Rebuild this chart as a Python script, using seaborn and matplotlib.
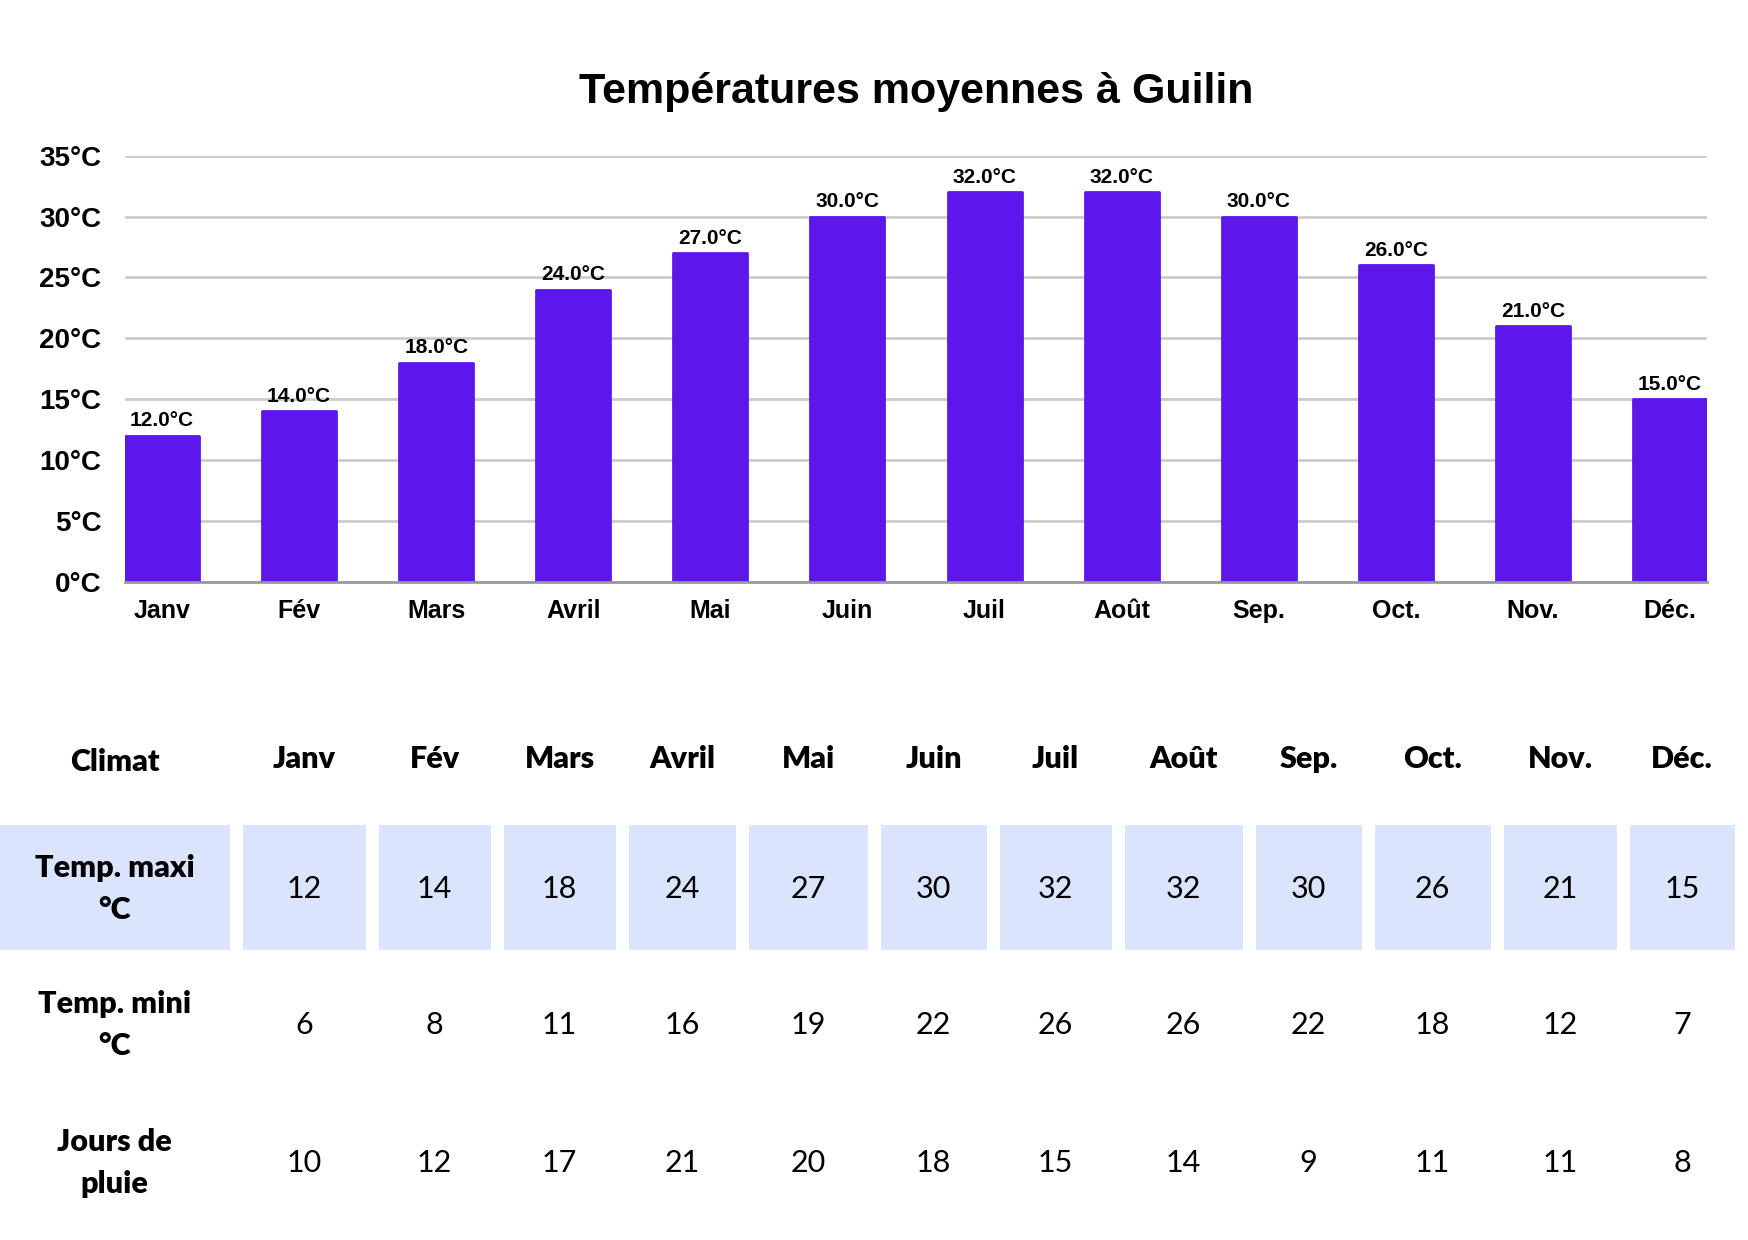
import numpy as np
import pandas as pd
import seaborn as sns
import matplotlib.pyplot as plt
from matplotlib.patches import Rectangle

# data
mois = ['Janv', 'Fév', 'Mars', 'Avril', 'Mai', 'Juin', 'Juil', 'Août', 'Sep.', 'Oct.', 'Nov.', 'Déc.']
temp_maxi = [12, 14, 18, 24, 27, 30, 32, 32, 30, 26, 21, 15]
temp_mini = [6, 8, 11, 16, 19, 22, 26, 26, 22, 18, 12, 7]
jours_pluie = [10, 12, 17, 21, 20, 18, 15, 14, 9, 11, 11, 8]
row_labels = ['Temp. maxi\n°C', 'Temp. mini\n°C', 'Jours de\npluie']

sns.set_theme(style='white')
plt.rcParams['font.family'] = ['Liberation Sans', 'DejaVu Sans']
plt.rcParams['text.color'] = 'black'
plt.rcParams['xtick.color'] = 'black'
plt.rcParams['ytick.color'] = 'black'

W, H = 1748, 1240
fig = plt.figure(figsize=(W / 100, H / 100), dpi=100)

# ---- table (pixel coordinates) ----
tab = fig.add_axes([0, 0, 1, 1], zorder=0)
tab.set_xlim(0, W)
tab.set_ylim(H, 0)
tab.axis('off')

bounds = [-7, 236, 372, 497, 622, 742, 874, 993, 1118, 1249, 1368, 1497, 1623, 1741]
centers = [(bounds[i] + bounds[i + 1]) / 2 for i in range(len(bounds) - 1)]
row_y = [762, 889, 1025, 1163]
tfont = ['Lato', 'DejaVu Sans']
hl = '#dbe4fd'

for i in range(len(bounds) - 1):
    x0 = max(bounds[i] + 6.5, 0)
    x1 = bounds[i + 1] - 6.5
    tab.add_patch(Rectangle((x0, 825), x1 - x0, 125, color=hl, lw=0))

tab.text(centers[0], row_y[0], 'Climat', ha='center', va='center',
         fontsize=22, fontweight='heavy', family=tfont)
for j, m in enumerate(mois):
    tab.text(centers[j + 1], row_y[0] - 3, m, ha='center', va='center',
             fontsize=22, fontweight='heavy', family=tfont)

rows = [temp_maxi, temp_mini, jours_pluie]
for r, (lab, vals) in enumerate(zip(row_labels, rows)):
    y = row_y[r + 1]
    tab.text(centers[0], y, lab, ha='center', va='center', fontsize=22,
             fontweight='heavy', family=tfont, linespacing=1.65)
    for j, v in enumerate(vals):
        tab.text(centers[j + 1], y, str(v), ha='center', va='center',
                 fontsize=22, family=tfont)

# ---- bar chart ----
ax = fig.add_axes([125 / W, 1 - 582 / H, (1707 - 125) / W, (582 - 155.7) / H], zorder=1)
ax.patch.set_alpha(0)
df = pd.DataFrame({'mois': mois, 'maxi': temp_maxi})
sns.barplot(data=df, x='mois', y='maxi', color='#5e17eb', saturation=1,
            width=0.54, ax=ax, zorder=3)
for p in ax.patches:
    p.set_edgecolor('#5e17eb')
    p.set_linewidth(2)
    p.set_joinstyle('round')

ax.bar_label(ax.containers[0], labels=[f'{v:.1f}°C' for v in temp_maxi],
             padding=4, fontsize=15, fontweight='bold', color='black')

ax.set_xlim(-0.27, 11.27)
ax.set_ylim(0, 35)
ticks = np.arange(0, 36, 5)
ax.set_yticks(ticks)
ax.set_yticklabels([f'{t}°C' for t in ticks], fontsize=20, fontweight='bold')
ax.tick_params(axis='y', length=0, pad=17)
ax.tick_params(axis='x', length=0, pad=12, labelsize=18)
for t in ax.get_xticklabels():
    t.set_fontweight('bold')
ax.set_xlabel('')
ax.set_ylabel('')
ax.grid(axis='y', color='#cccccc', lw=2, zorder=0)
ax.set_axisbelow(True)
for s in ['top', 'right', 'left']:
    ax.spines[s].set_visible(False)
ax.spines['bottom'].set_color('#999999')
ax.spines['bottom'].set_linewidth(2)
ax.spines['bottom'].set_zorder(4)

fig.text(916 / W, 1 - 92 / H, 'Températures moyennes à Guilin', ha='center',
         va='center', fontsize=31, fontweight='bold')

fig.savefig('out.png', dpi=100)
